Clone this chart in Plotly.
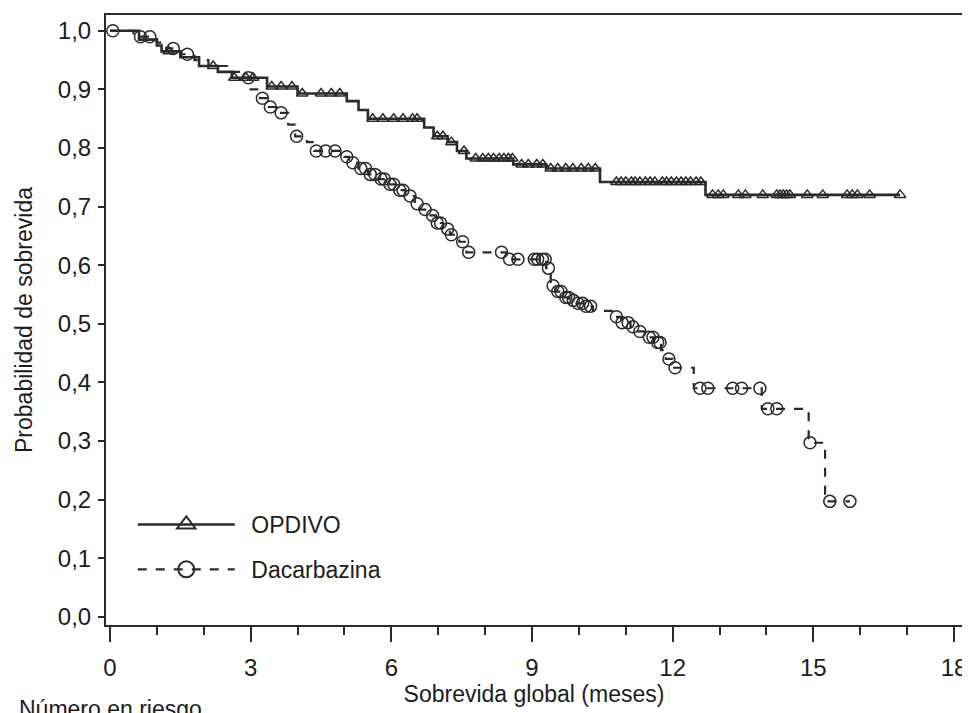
import numpy as np
import plotly.graph_objects as go

# ---------------- data ----------------
opdivo_event_t = [0.62, 1.0, 1.1, 1.5, 1.9, 2.3, 2.6, 3.35, 4.0, 5.05, 5.3, 5.5,
                  6.7, 6.9, 7.2, 7.4, 7.6, 8.6, 9.3, 10.45, 12.7]
opdivo_event_s = [0.985, 0.975, 0.965, 0.955, 0.94, 0.93, 0.92, 0.905, 0.893, 0.88,
                  0.865, 0.85, 0.835, 0.82, 0.81, 0.795, 0.782, 0.772, 0.765, 0.742, 0.72]
opdivo_end = 16.85
opdivo_censor_t = [1.25, 2.2, 2.65, 2.9, 3.05, 3.45, 3.65, 3.88, 4.1, 4.5, 4.72, 4.9,
                   5.6, 5.82, 6.05, 6.25, 6.45, 6.55, 6.98, 7.1, 7.28, 7.55, 7.8, 7.95,
                   8.07, 8.18, 8.3, 8.4, 8.5, 8.58, 8.78, 8.92, 9.1, 9.23, 9.4, 9.55,
                   9.72, 9.87, 10.05, 10.2, 10.35, 10.8, 10.9, 11.0, 11.12, 11.2, 11.3,
                   11.42, 11.52, 11.62, 11.78, 11.87, 11.97, 12.08, 12.18, 12.28, 12.38,
                   12.5, 12.6, 12.85, 12.97, 13.08, 13.4, 13.55, 13.92, 14.22, 14.29,
                   14.36, 14.43, 14.5, 14.87, 15.2, 15.72, 15.83, 15.94, 16.2, 16.85]

dac_event_t = [0.5, 1.0, 1.2, 1.5, 1.8, 2.1, 2.5, 2.8, 3.0, 3.2, 3.35, 3.55, 3.8, 3.95,
               4.2, 4.35, 5.0, 5.1, 5.3, 5.5, 5.7, 5.9, 6.1, 6.3, 6.5, 6.6, 6.8, 6.95,
               7.1, 7.25, 7.45, 7.6, 8.45, 9.3, 9.4, 9.5, 9.65, 9.8, 9.95, 10.1, 10.3,
               10.7, 10.9, 11.1, 11.25, 11.4, 11.6, 11.75, 11.85, 12.0, 12.45, 13.9,
               14.9, 15.25]
dac_event_s = [0.99, 0.98, 0.97, 0.96, 0.95, 0.94, 0.93, 0.92, 0.90, 0.885, 0.87, 0.86,
               0.84, 0.82, 0.81, 0.795, 0.785, 0.775, 0.765, 0.755, 0.747, 0.738, 0.728,
               0.718, 0.705, 0.695, 0.685, 0.672, 0.662, 0.652, 0.64, 0.622, 0.61, 0.595,
               0.565, 0.555, 0.545, 0.54, 0.535, 0.53, 0.522, 0.512, 0.502, 0.495, 0.487,
               0.477, 0.468, 0.455, 0.44, 0.425, 0.39, 0.355, 0.297, 0.197]
dac_end = 15.78
dac_censor_t = [0.06, 0.65, 0.85, 1.35, 1.65, 2.95, 3.25, 3.42, 3.65, 3.98, 4.4, 4.6,
                4.8, 5.05, 5.18, 5.35, 5.45, 5.55, 5.65, 5.78, 5.85, 5.97, 6.05, 6.18,
                6.25, 6.4, 6.55, 6.72, 6.88, 6.98, 7.05, 7.2, 7.28, 7.52, 7.65, 8.35,
                8.52, 8.7, 9.05, 9.12, 9.22, 9.28, 9.35, 9.45, 9.55, 9.62, 9.72, 9.78,
                9.88, 9.98, 10.08, 10.15, 10.25, 10.8, 10.92, 11.05, 11.15, 11.3, 11.5,
                11.58, 11.68, 11.73, 11.92, 12.05, 12.58, 12.75, 13.28, 13.47, 13.86,
                14.03, 14.22, 14.93, 15.35, 15.78]

series_names = ["OPDIVO", "Dacarbazina"]
x_tick_vals = [0, 3, 6, 9, 12, 15, 18]
y_tick_vals = [0.0, 0.1, 0.2, 0.3, 0.4, 0.5, 0.6, 0.7, 0.8, 0.9, 1.0]
y_tick_text = ["0,0", "0,1", "0,2", "0,3", "0,4", "0,5", "0,6", "0,7", "0,8", "0,9", "1,0"]
x_title = "Sobrevida global (meses)"
y_title = "Probabilidad de sobrevida"
risk_label = "Número en riesgo"

# ---------------- helpers ----------------
def step_xy(ev_t, ev_s, end):
    xs = [0.0] + list(ev_t) + [end]
    ys = [1.0] + list(ev_s) + [ev_s[-1]]
    return xs, ys

def surv_at(ev_t, ev_s, times):
    idx = np.searchsorted(np.array(ev_t), np.array(times), side="right") - 1
    s = np.array([1.0] + list(ev_s))
    return s[idx + 1]

FONT = "Liberation Sans, Arial, sans-serif"
INK = "#1c1c1c"
LINE = "#2a2a2a"

fig = go.Figure()

arms = [
    (series_names[0], opdivo_event_t, opdivo_event_s, opdivo_end, opdivo_censor_t,
     "solid", 2.6, "triangle-up-open", 10),
    (series_names[1], dac_event_t, dac_event_s, dac_end, dac_censor_t,
     "dash", 2.2, "circle-open", 12),
]

for name, et, es, end, ct, dash, lw, sym, msz in arms:
    xs, ys = step_xy(et, es, end)
    fig.add_trace(go.Scatter(x=xs, y=ys, mode="lines", line_shape="hv",
                             line=dict(color=LINE, width=lw, dash=dash),
                             showlegend=False, hoverinfo="skip"))
    fig.add_trace(go.Scatter(x=ct, y=surv_at(et, es, ct), mode="markers",
                             marker=dict(symbol=sym, size=msz, color=LINE,
                                         line=dict(width=1.5, color=LINE)),
                             showlegend=False, hoverinfo="skip"))
    fig.add_trace(go.Scatter(x=[None], y=[None], mode="lines+markers",
                             name="\u2002" + name, legendgroup=name,
                             line=dict(color=LINE, width=lw, dash=dash),
                             marker=dict(symbol=sym, size=17, color=LINE,
                                         line=dict(width=2, color=LINE))))

# the page body has an 8px margin, so the figure is 8px smaller than the window
fig.update_layout(
    width=962, height=705,
    margin=dict(l=98, r=8, t=7, b=88, autoexpand=False),
    paper_bgcolor="white", plot_bgcolor="white",
    font=dict(family=FONT, size=23, color=INK),
    showlegend=True,
    legend=dict(x=0.0313, y=0.200, xanchor="left", yanchor="top",
                bgcolor="rgba(0,0,0,0)", font=dict(size=23, family=FONT, color=INK),
                itemwidth=97, tracegroupgap=12, traceorder="grouped"),
    xaxis=dict(range=[-0.085, 18.17], tickmode="array", tickvals=x_tick_vals,
               ticks="outside", ticklen=15, tickwidth=2, tickcolor=LINE,
               showline=True, linecolor=LINE, linewidth=2, mirror=True,
               showgrid=False, zeroline=False, ticklabelstandoff=5,
               tickfont=dict(size=24),
               minor=dict(dtick=1, tick0=0, ticks="outside", ticklen=8,
                          tickwidth=2, tickcolor=LINE, showgrid=False),
               title=dict(text=x_title, font=dict(size=23), standoff=4)),
    yaxis=dict(range=[-0.014, 1.027], tickmode="array", tickvals=y_tick_vals,
               ticktext=y_tick_text, ticks="outside", ticklen=6, tickwidth=2,
               tickcolor=LINE, showline=True, linecolor=LINE, linewidth=2,
               mirror=True, showgrid=False, zeroline=False, ticklabelstandoff=2,
               tickfont=dict(size=24),
               title=dict(text=y_title, font=dict(size=23), standoff=19)),
)

fig.add_annotation(text=risk_label, xref="paper", yref="paper",
                   x=-0.104, y=-0.113, xanchor="left", yanchor="top",
                   showarrow=False, font=dict(size=23, family=FONT, color=INK))

fig.write_html("out.html")
